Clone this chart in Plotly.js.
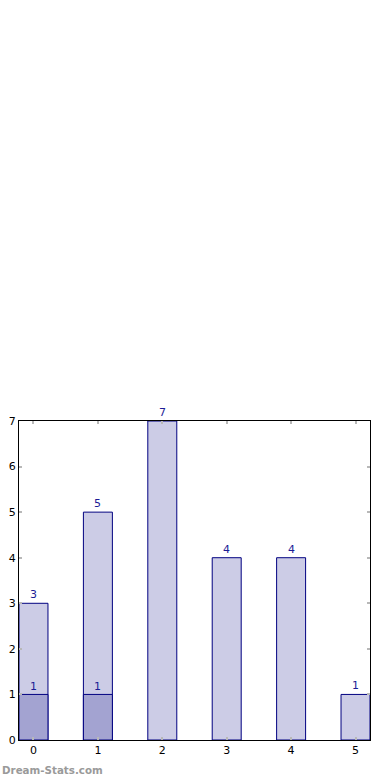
<!DOCTYPE html>
<html>
<head>
<meta charset="utf-8">
<script src="https://cdn.plot.ly/plotly-3.0.1.min.js"></script>
<style>
html,body{margin:0;padding:0;background:#fff;}
#chart{width:390px;height:780px;}
</style>
</head>
<body>
<div id="chart"></div>
<script>
var categories = [0, 1, 2, 3, 4, 5];
var totalValues = [3, 5, 7, 4, 4, 1];
var subCategories = [0, 1];
var subValues = [1, 1];
var yTicks = [0, 1, 2, 3, 4, 5, 6, 7];

var edge = '#000080';
var labelColor = '#1c1c96';

var traces = [
  {
    type: 'bar', x: categories, y: totalValues, width: 0.45,
    marker: {color: '#ccccE6', line: {color: edge, width: 1}},
    hoverinfo: 'none', showlegend: false
  },
  {
    type: 'bar', x: subCategories, y: subValues, width: 0.45,
    marker: {color: '#a3a3d1', line: {color: edge, width: 1}},
    hoverinfo: 'none', showlegend: false
  }
];

var annotations = [];
categories.forEach(function (c, i) {
  annotations.push({x: c, y: totalValues[i], xref: 'x', yref: 'y', text: String(totalValues[i]),
    showarrow: false, yanchor: 'bottom', yshift: 0, font: {family: 'DejaVu Sans', size: 11, color: labelColor}});
});
subCategories.forEach(function (c, i) {
  annotations.push({x: c, y: subValues[i], xref: 'x', yref: 'y', text: String(subValues[i]),
    showarrow: false, yanchor: 'bottom', yshift: -1, font: {family: 'DejaVu Sans', size: 11, color: labelColor}});
});
annotations.push({x: 0, y: 0, xref: 'paper', yref: 'paper', xanchor: 'left', yanchor: 'middle',
  xshift: -19, yshift: -30, text: 'Dream-Stats.com', showarrow: false,
  font: {family: 'DejaVu Sans', size: 10.3, color: '#9a9a9a', weight: 'bold'}});

var layout = {
  width: 390, height: 780,
  margin: {l: 19, r: 20, t: 421, b: 40, pad: 0},
  paper_bgcolor: '#fff', plot_bgcolor: '#fff',
  barmode: 'overlay',
  font: {family: 'DejaVu Sans', size: 11, color: '#000'},
  xaxis: {
    range: [-0.225, 5.225], tickmode: 'array', tickvals: categories, ticktext: categories.map(String),
    showgrid: false, zeroline: false, showline: true, linecolor: '#000', linewidth: 1,
    mirror: 'ticks', ticks: 'inside', ticklen: 3, tickcolor: '#b8b8b8', tickwidth: 2,
    tickfont: {family: 'DejaVu Sans', size: 11, color: '#000'}, fixedrange: true
  },
  yaxis: {
    range: [0, 7], tickmode: 'array', tickvals: yTicks, ticktext: yTicks.map(String),
    showgrid: false, zeroline: false, showline: true, linecolor: '#000', linewidth: 1,
    mirror: 'ticks', ticks: 'inside', ticklen: 3, tickcolor: '#b8b8b8', tickwidth: 2,
    tickfont: {family: 'DejaVu Sans', size: 11, color: '#000'}, fixedrange: true
  },
  annotations: annotations
};

Plotly.newPlot('chart', traces, layout, {displayModeBar: false, staticPlot: true});
</script>
</body>
</html>
